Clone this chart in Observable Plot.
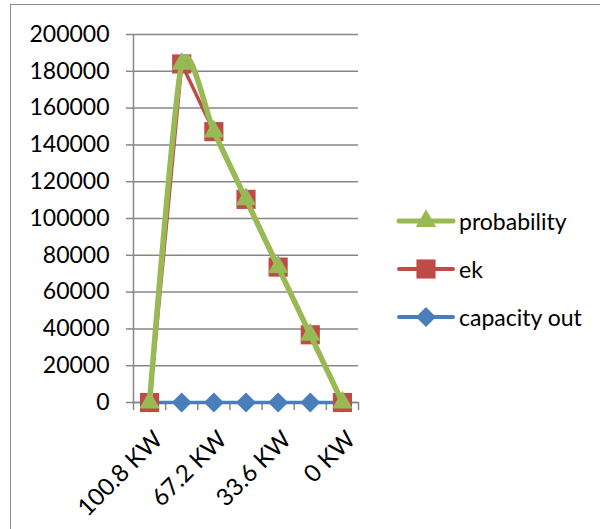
<!DOCTYPE html>
<html><head><meta charset="utf-8">
<script src="https://cdn.jsdelivr.net/npm/d3@7"></script>
<script src="https://cdn.jsdelivr.net/npm/@observablehq/plot@0.6"></script>
<style>
html,body{margin:0;padding:0;background:#fff;}
body{width:600px;height:529px;position:relative;overflow:hidden;font-family:Lato,sans-serif;}
#frame{position:absolute;left:10px;top:4px;width:700px;height:700px;border:1.5px solid #8c8c8c;box-sizing:border-box;}
#chart{position:absolute;left:0;top:0;}
#legend{position:absolute;left:396px;top:0;}
.row{position:absolute;left:0;height:30px;display:flex;align-items:center;white-space:nowrap;font-size:23px;color:#000;}
.row svg{margin-right:3px;}
</style></head><body>
<div id="frame"></div><div id="chart"></div><div id="legend"></div>
<script>
// ---- data ----
const categories = ["100.8 KW","84 KW","67.2 KW","50.4 KW","33.6 KW","16.8 KW","0 KW"];
const probability = [0,184000,147200,110400,73600,36800,0];
const ek = [0,184000,147200,110400,73600,36800,0];
const capacityOut = [0,0,0,0,0,0,0];
const yTicks = [0,20000,40000,60000,80000,100000,120000,140000,160000,180000,200000];
const labeledIdx = [0,2,4,6];
const seriesNames = ["probability","ek","capacity out"];
const seriesColors = ["#98b954","#be4b48","#4a7ebb"];
const seriesSymbols = ["triangle","square","diamond2"];

const rows = categories.map((c,i)=>({i, cat:c, probability:probability[i], ek:ek[i], cap:capacityOut[i]}));
const boundaries = d3.range(categories.length+1).map(k=>k-0.5);
const gray = "#878787";
const [cGreen, cRed, cBlue] = seriesColors;

const chart = Plot.plot({
  width:600, height:529,
  marginLeft:133, marginRight:242, marginTop:34, marginBottom:127,
  style:{fontFamily:"Lato, sans-serif", fontSize:"23px", color:"#000", background:"transparent", overflow:"visible"},
  x:{type:"linear", domain:[-0.5, categories.length-0.5], axis:null},
  y:{domain:[0,200000], axis:null},
  marks:[
    Plot.gridY(yTicks, {stroke:gray, strokeOpacity:1, strokeWidth:1.5}),
    Plot.axisY(yTicks, {tickSize:7, tickPadding:17, tickFormat:"d", stroke:gray, strokeWidth:1.5, fill:"#000", label:null}),
    Plot.ruleX([-0.5], {y1:0, y2:200000, stroke:gray, strokeWidth:1.5}),
    Plot.ruleY([0], {x1:-0.5, x2:categories.length-0.5, stroke:gray, strokeWidth:1.5}),
    Plot.axisX(boundaries, {tickSize:8, tickFormat:()=>"", stroke:gray, strokeWidth:1.5, label:null}),
    Plot.text(labeledIdx, {x:d=>d, y:()=>0, text:d=>categories[d], rotate:-45, textAnchor:"end", lineAnchor:"middle", dx:9, dy:33, fill:"#000", fontSize:24}),
    Plot.line(rows, {x:"i", y:"cap", stroke:cBlue, strokeWidth:3.5}),
    Plot.dot(rows, {x:"i", y:"cap", symbol:"diamond2", r:9, fill:cBlue, stroke:null}),
    Plot.line(rows, {x:"i", y:"ek", stroke:cRed, strokeWidth:3.5}),
    Plot.dot(rows, {x:"i", y:"ek", symbol:"square", r:10.8, fill:cRed, stroke:null}),
    Plot.line(rows, {x:"i", y:"probability", stroke:cGreen, strokeWidth:5.5, curve:"cardinal", tension:0.3}),
    Plot.dot(rows, {x:"i", y:"probability", symbol:"triangle", r:7.6, fill:cGreen, stroke:null})
  ]
});
document.getElementById("chart").appendChild(chart);

// ---- legend ----
const legend = document.getElementById("legend");
const symMap = {triangle:d3.symbolTriangle, square:d3.symbolSquare, diamond2:d3.symbolDiamond2};
const rSizes = {triangle:7.6, square:10.8, diamond2:9};
const rowCenters = [221, 269, 317];
seriesNames.forEach((name,k)=>{
  const div = document.createElement("div");
  div.className = "row";
  div.style.top = (rowCenters[k]-15)+"px";
  const sym = seriesSymbols[k];
  const path = d3.symbol(symMap[sym], Math.PI*rSizes[sym]*rSizes[sym])();
  const sw = k===0 ? 5 : 4;
  div.innerHTML = `<svg width="60" height="30" viewBox="0 0 60 30"><line x1="3" x2="57" y1="15" y2="15" stroke="${seriesColors[k]}" stroke-width="${sw}" stroke-linecap="round"/><path d="${path}" transform="translate(30,15)" fill="${seriesColors[k]}"/></svg><span>${name}</span>`;
  legend.appendChild(div);
});
</script>
</body></html>
